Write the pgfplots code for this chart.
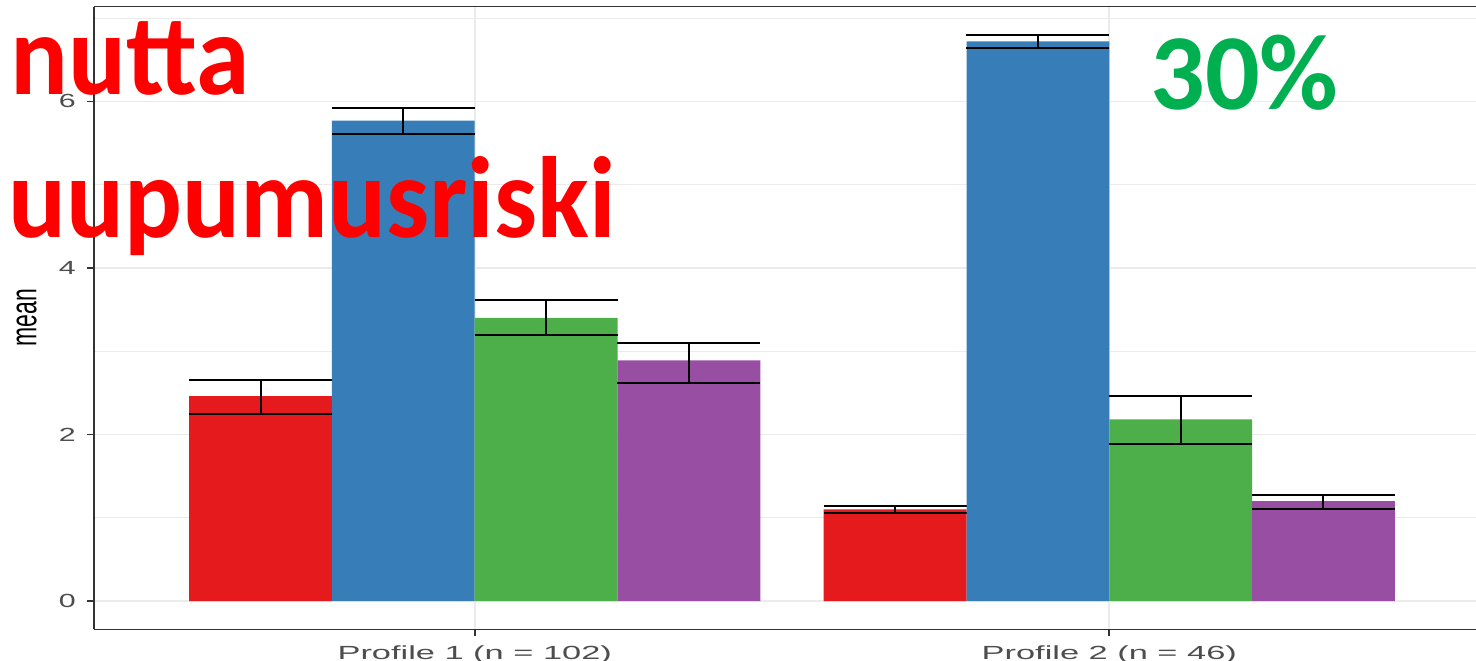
\documentclass[border=0pt]{standalone}
\usepackage{pgfplots}
\usepackage{pgfplotstable}
\pgfplotsset{compat=1.18}
\usepackage{fontspec}
\setmainfont{Liberation Sans}
\newfontfamily\carlito{Carlito}
\definecolor{cA}{HTML}{E41A1C}
\definecolor{cB}{HTML}{377EB8}
\definecolor{cC}{HTML}{4DAF4A}
\definecolor{cD}{HTML}{984EA3}
\definecolor{gridc}{HTML}{EBEBEB}
\definecolor{framec}{HTML}{333333}
\definecolor{tickc}{HTML}{4D4D4D}
\definecolor{pgreen}{HTML}{00B050}
\definecolor{pred}{HTML}{FF0000}

\pgfplotstableread{
x y ep em
0 2.46 0.19 0.22
1 1.10 0.04 0.04
}\tabA
\pgfplotstableread{
x y ep em
0 5.77 0.15 0.16
1 6.72 0.08 0.08
}\tabB
\pgfplotstableread{
x y ep em
0 3.40 0.22 0.21
1 2.18 0.28 0.29
}\tabC
\pgfplotstableread{
x y ep em
0 2.89 0.21 0.27
1 1.20 0.07 0.09
}\tabD

\pgfplotsset{errstyle/.style={
  error bars/.cd, y dir=both, y explicit,
  error bar style={black, line width=1pt},
  error mark options={black, line width=1pt, mark size=35.7pt, rotate=90}}}

\begin{document}
\begin{tikzpicture}
\begin{axis}[
  at={(47pt,15.35pt)}, anchor=south west, scale only axis,
  width=698pt, height=311.4pt,
  xmin=-0.6, xmax=1.6, ymin=-0.34, ymax=7.14,
  axis lines*=left,
  xtick={0,1}, xticklabels={Profile 1 (n = 102), Profile 2 (n = 46)},
  ytick={0,2,4,6}, minor ytick={1,3,5,7},
  ymajorgrids, yminorgrids, xmajorgrids,
  major grid style={gridc, line width=0.9pt},
  minor grid style={gridc, line width=0.6pt},
  axis line style={framec, line width=0.8pt},
  tick style={framec, line width=0.8pt},
  tick align=outside, major tick length=3.5pt, minor tick length=0pt,
  tick label style={font=\fontsize{9.5}{10}\selectfont, text=tickc},
  x tick label style={xscale=1.81, yshift=-1pt},
  y tick label style={xscale=1.6},
  /pgf/number format/assume math mode=true,
  ylabel=mean, ylabel style={font=\fontsize{11.5}{12}\selectfont, yscale=1.6},
  ybar, bar width=0.225,
]
\addplot[fill=cA, draw=none, bar shift=-0.3375, errstyle]
  table[x=x, y=y, y error plus=ep, y error minus=em] {\tabA};
\addplot[fill=cB, draw=none, bar shift=-0.1125, errstyle]
  table[x=x, y=y, y error plus=ep, y error minus=em] {\tabB};
\addplot[fill=cC, draw=none, bar shift=0.1125, errstyle]
  table[x=x, y=y, y error plus=ep, y error minus=em] {\tabC};
\addplot[fill=cD, draw=none, bar shift=0.3375, errstyle]
  table[x=x, y=y, y error plus=ep, y error minus=em] {\tabD};
\draw[framec, line width=0.8pt] (rel axis cs:0,1) -- (rel axis cs:1,1);
\end{axis}
\node[anchor=base east, inner sep=0pt, text=pred, yscale=1.07, font=\carlito\bfseries\fontsize{54}{54}\selectfont] at (125pt,282.5pt) {nutta};
\node[anchor=base east, inner sep=0pt, text=pred, yscale=1.07, font=\carlito\bfseries\fontsize{54}{54}\selectfont] at (308pt,211.5pt) {uupumusriski};
\node[anchor=base west, inner sep=0pt, text=pgreen, font=\carlito\bfseries\fontsize{54}{54}\selectfont] at (575pt,275pt) {30\%};
\pgfresetboundingbox
\path[use as bounding box] (0,0) rectangle (738pt,330pt);
\end{tikzpicture}
\end{document}
